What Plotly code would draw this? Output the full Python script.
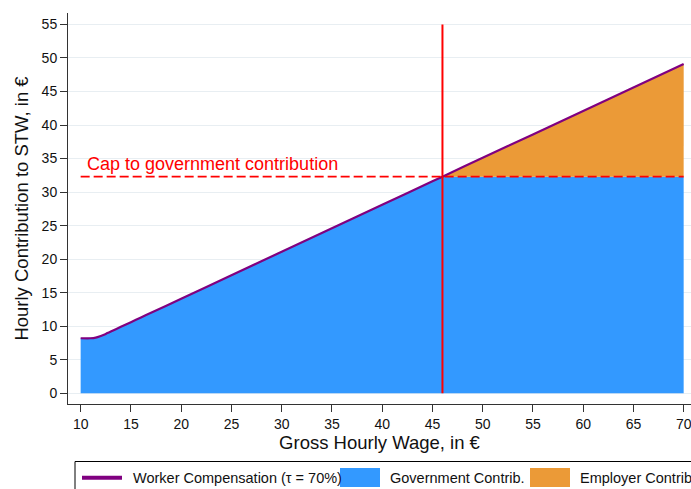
import plotly.graph_objects as go
import numpy as np

# ---- data ----
wage = [10, 11, 11.5, 12, 12.5, 13, 14, 15, 16, 17, 20, 25, 30, 35, 40, 45, 46, 50, 55, 60, 65, 70]
worker_comp = [8.2, 8.2, 8.3, 8.55, 8.85, 9.2, 9.9, 10.6, 11.3, 12.0, 14.1, 17.6, 21.1, 24.6,
               28.1, 31.6, 32.3, 35.1, 38.6, 42.1, 45.6, 49.1]
cap_value = 32.3
cap_wage = 46
x_ticks = [10, 15, 20, 25, 30, 35, 40, 45, 50, 55, 60, 65, 70]
y_ticks = [0, 5, 10, 15, 20, 25, 30, 35, 40, 45, 50, 55]
legend_labels = ["Worker Compensation (τ = 70%)", "Government Contrib.", "Employer Contrib."]
cap_label = "Cap to government contribution"

BLUE = "#3399ff"
ORANGE = "#eb9a37"
PURPLE = "#800080"
RED = "#ff0000"
FONT = "Liberation Sans, Arial, Helvetica, sans-serif"

w = np.array(wage)
c = np.array(worker_comp)
gov = np.minimum(c, cap_value)
mask = w >= cap_wage

fig = go.Figure()
fig.add_trace(go.Scatter(x=w, y=gov, mode="lines", line=dict(width=0), fill="tozeroy",
                         fillcolor=BLUE, showlegend=False, hoverinfo="skip"))
fig.add_trace(go.Scatter(x=w[mask], y=[cap_value] * int(mask.sum()), mode="lines",
                         line=dict(width=0), showlegend=False, hoverinfo="skip"))
fig.add_trace(go.Scatter(x=w[mask], y=c[mask], mode="lines", line=dict(width=0),
                         fill="tonexty", fillcolor=ORANGE, showlegend=False, hoverinfo="skip"))
fig.add_trace(go.Scatter(x=w, y=c, mode="lines", line=dict(color=PURPLE, width=2.2, shape="spline", smoothing=0.4),
                         showlegend=False))

# layout geometry (pixels)
W, H = 691, 489
ML, MR, MT, MB = 68, 0, 13, 85
PW, PH = W - ML - MR, H - MT - MB


def px(xp):
    return (xp - ML) / PW


def py(yp):
    return (H - MB - yp) / PH


shapes = [
    dict(type="line", xref="x", yref="y", x0=cap_wage, x1=cap_wage, y0=0, y1=55,
         line=dict(color=RED, width=2), layer="above"),
    dict(type="line", xref="x", yref="y", x0=10, x1=70, y0=cap_value, y1=cap_value,
         line=dict(color=RED, width=1.8, dash="9px,4px"), layer="above"),
    # manual legend
    dict(type="rect", xref="paper", yref="paper", x0=px(75), x1=px(760), y0=py(461.5), y1=py(540),
         line=dict(color="black", width=1), fillcolor="rgba(0,0,0,0)", layer="above"),
    dict(type="line", xref="paper", yref="paper", x0=px(82), x1=px(122), y0=py(477.7), y1=py(477.7),
         line=dict(color=PURPLE, width=4), layer="above"),
    dict(type="rect", xref="paper", yref="paper", x0=px(340), x1=px(380), y0=py(487), y1=py(468),
         line=dict(width=0), fillcolor=BLUE, layer="above"),
    dict(type="rect", xref="paper", yref="paper", x0=px(530), x1=px(570), y0=py(487), y1=py(468),
         line=dict(width=0), fillcolor=ORANGE, layer="above"),
]

annotations = [
    dict(text=cap_label, xref="x", yref="y", x=10.45, y=34.2, xanchor="left", yanchor="middle",
         showarrow=False, font=dict(family=FONT, size=18, color=RED)),
]
for xp, lab in zip([131, 388, 578], legend_labels):
    annotations.append(dict(text=lab, xref="paper", yref="paper", x=px(xp), y=py(478),
                            xanchor="left", yanchor="middle", showarrow=False,
                            font=dict(family=FONT, size=14.5, color="#111")))

fig.update_layout(
    width=W, height=H, autosize=False,
    margin=dict(l=ML, r=MR, t=MT, b=MB, pad=0),
    paper_bgcolor="white", plot_bgcolor="white",
    font=dict(family=FONT, color="#111"),
    shapes=shapes, annotations=annotations,
    showlegend=False,
    xaxis=dict(range=[8.74, 70.73], tickvals=x_ticks, ticks="outside", ticklen=7,
               tickcolor="#333", tickwidth=1, showline=True, linecolor="#333", linewidth=1,
               showgrid=False, zeroline=False, tickfont=dict(size=14, color="#111"),
               ticklabeloverflow="allow",
               title=dict(text="Gross Hourly Wage, in €", font=dict(size=18.5, color="#111"),
                          standoff=4)),
    yaxis=dict(range=[-1.6, 56.7], tickvals=y_ticks, ticks="outside", ticklen=7,
               tickcolor="#333", tickwidth=1, showline=True, linecolor="#333", linewidth=1,
               showgrid=True, gridcolor="#e8eef2", gridwidth=1, zeroline=False,
               tickfont=dict(size=14, color="#111"),
               title=dict(text="Hourly Contribution to STW, in €", font=dict(size=18.5, color="#111"),
                          standoff=8)),
)

fig.write_html("out.html", config=dict(displayModeBar=False),
               post_script="document.body.style.margin='0';")
